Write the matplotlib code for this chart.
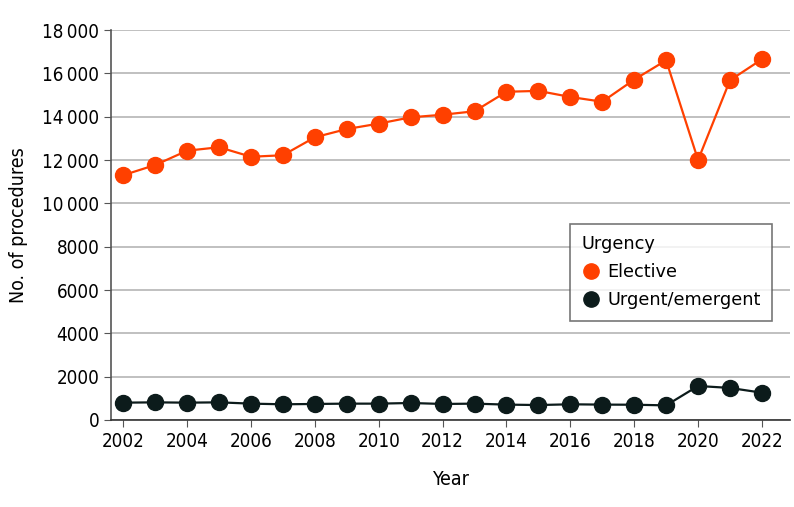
import matplotlib
matplotlib.use('Agg')
import matplotlib.pyplot as plt
from matplotlib.ticker import FuncFormatter

plt.rcParams['font.family'] = ['Liberation Sans Narrow', 'DejaVu Sans']
plt.rcParams['font.stretch'] = 'condensed'

years = list(range(2002, 2023))
elective = [11300, 11770, 12430, 12590, 12150, 12220, 13050, 13430, 13680, 13970, 14090,
            14250, 15150, 15190, 14910, 14690, 15710, 16600, 12000, 15680, 16650]
urgent = [800, 815, 800, 815, 755, 725, 740, 755, 755, 785, 740,
          755, 710, 690, 725, 710, 705, 675, 1570, 1480, 1260]

orange = '#FF4000'
dark = '#0C1B1B'


def fmt(v, pos):
    v = int(v)
    if v >= 10000:
        return f'{v // 1000}\u2009{v % 1000:03d}'
    return str(v)


fig = plt.figure(figsize=(7.94, 5.07), dpi=100)
ax = fig.add_axes([0.14, 0.1716, 0.855, 0.7692])

ax.plot(years, elective, '-o', color=orange, lw=1.6, ms=11.5, label='Elective', zorder=3)
ax.plot(years, urgent, '-o', color=dark, lw=1.6, ms=11.5, label='Urgent/emergent', zorder=3)

ax.set_xlim(2001.62, 2022.88)
ax.set_ylim(0, 18000)
ax.set_xticks(range(2002, 2023, 2))
ax.set_yticks(range(0, 18001, 2000))
ax.yaxis.set_major_formatter(FuncFormatter(fmt))
ax.grid(axis='y', color='#b5b5b5', lw=1.2)
ax.set_axisbelow(True)

for s in ['top', 'right']:
    ax.spines[s].set_visible(False)
ax.spines['left'].set_color('#555555')
ax.spines['bottom'].set_color('#333333')
ax.spines['left'].set_linewidth(1.2)
ax.spines['bottom'].set_linewidth(1.2)
ax.tick_params(labelsize=13.5, length=5, color='#555555')

ax.set_xlabel('Year', fontsize=14, labelpad=14)
ax.set_ylabel('No. of procedures', fontsize=14, labelpad=10)

leg = ax.legend(title='Urgency', loc='upper left', bbox_to_anchor=(0.676, 0.503),
                borderaxespad=0, prop={'size': 12.8, 'stretch': 'normal'},
                title_fontproperties={'size': 12.8, 'stretch': 'normal'},
                frameon=True, fancybox=False,
                handletextpad=0.45, handlelength=1.0, borderpad=0.65, labelspacing=0.55)
leg._legend_box.align = 'left'
leg.get_frame().set_edgecolor('#555555')
leg.get_frame().set_linewidth(1.2)
for h in leg.legend_handles:
    h.set_linestyle('')
    h.set_markersize(11)

fig.savefig('out.png', dpi=100)
